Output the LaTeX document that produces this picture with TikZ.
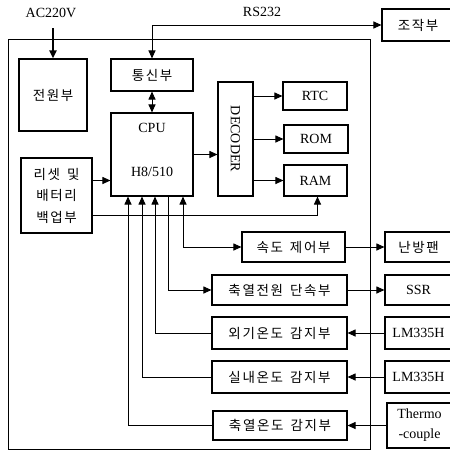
\documentclass[tikz,border=0pt]{standalone}
\usepackage{fontspec}
\setmainfont{Liberation Serif}
\newfontfamily\kr[LetterSpace=12]{Noto Sans CJK KR}
\usetikzlibrary{arrows.meta, calc}
\tikzset{
  blk/.style ={rectangle, draw=black, line width=1.1pt, fill=white, align=center, inner sep=2pt,
               font=\fontsize{14}{20}\selectfont},
  kblk/.style={blk, font=\kr\fontsize{13.5}{21.5}\selectfont},
  arr/.style ={-{Triangle[length=8pt,width=7pt]}, line width=1pt},
  darr/.style={{Triangle[length=8pt,width=7pt]}-{Triangle[length=8pt,width=7pt]}, line width=1pt},
  lbl/.style ={font=\fontsize{14}{15}\selectfont, inner sep=0pt},
}
\newcommand{\ksp}{\hspace{7pt}}

\begin{document}
\begin{tikzpicture}[x=1pt, y=-1pt]
  \useasboundingbox (0,0) rectangle (450,453);
  % outer frame
  \draw[line width=0.7pt] (8,39) rectangle (370,449);
  % left column
  \node[kblk, minimum width=68, minimum height=72] (pwr) at (53,95) {전원부};
  \node[kblk, minimum width=82, minimum height=32] (com) at (152,75) {통신부};
  \node[blk, minimum width=82, minimum height=83] (cpu) at (152,154.5) {};
  \node[lbl] (cpuA) at (152,128) {CPU};
  \node[lbl] (cpuB) at (152,172) {H8/510};
  \node[kblk, minimum width=71, minimum height=75] (rst) at (56.5,195.5) {리셋\ksp 및\\배터리\\백업부};
  % decoder and memories
  \node[blk, minimum width=35, minimum height=114,
        label={[rotate=-90, lbl]center:DECODER}] (dec) at (235.5,139) {};
  \node[blk, minimum width=64, minimum height=28] (rtc) at (315,96) {RTC};
  \node[blk, minimum width=64, minimum height=28] (rom) at (316,139) {ROM};
  \node[blk, minimum width=63, minimum height=31] (ram) at (315.5,180.5) {RAM};
  % interface blocks
  \node[kblk, minimum width=103, minimum height=30] (spd) at (293.5,247) {속도\ksp 제어부};
  \node[kblk, minimum width=135, minimum height=30] (pwc) at (279.5,290) {축열전원\ksp 단속부};
  \node[kblk, minimum width=135, minimum height=32] (ots) at (279.5,333) {외기온도\ksp 감지부};
  \node[kblk, minimum width=135, minimum height=32] (its) at (279.5,377) {실내온도\ksp 감지부};
  \node[kblk, minimum width=134, minimum height=29] (hts) at (280,425.5) {축열온도\ksp 감지부};
  % outside devices
  \node[kblk, minimum width=72, minimum height=32] (ctl) at (418,25) {조작부};
  \node[kblk, minimum width=67, minimum height=30] (fan) at (418.5,247) {난방팬};
  \node[blk, minimum width=67, minimum height=30] (ssr) at (418.5,290) {SSR};
  \node[blk, minimum width=67, minimum height=32] (lm1) at (418.5,333) {LM335H};
  \node[blk, minimum width=67, minimum height=32] (lm2) at (418.5,377) {LM335H};
  \node[blk, minimum width=65, minimum height=45] (tc) at (419.5,425.5) {Thermo\\-couple};
  % labels
  \node[lbl] (ac) at (51,13) {AC220V};
  \node[lbl] (rs) at (262,12) {RS232};
  \coordinate (acIn) at (53,28);
  % connectors
  \draw[arr, line width=2pt] (acIn) -- (acIn |- pwr.north);
  \draw[darr] (ctl.west) -| (com.north);
  \draw[darr] (com) -- (cpu);
  \draw[arr] ([yshift=15pt]rst.east) -- ([yshift=15pt]rst.east -| cpu.west);
  \draw[arr] ([yshift=-20pt]rst.east) -| ([xshift=2pt]ram.south);
  \draw[arr] (cpu.east) -- (cpu.east -| dec.west);
  \draw[arr] (rtc.west -| dec.east) -- (rtc.west);
  \draw[arr] (rom.west -| dec.east) -- (rom.west);
  \draw[arr] (ram.west -| dec.east) -- (ram.west);
  \draw[darr] ([xshift=31pt]cpu.south) |- (spd.west);
  \draw[arr] ([xshift=16pt]cpu.south) |- (pwc.west);
  \draw[arr] (ots.west) -| ([xshift=3pt]cpu.south);
  \draw[arr] (its.west) -| ([xshift=-10pt]cpu.south);
  \draw[arr] (hts.west) -| ([xshift=-24pt]cpu.south);
  \draw[arr] (spd) -- (fan);
  \draw[arr] (pwc) -- (ssr);
  \draw[arr] (lm1) -- (ots);
  \draw[arr] (lm2) -- (its);
  \draw[arr] (tc) -- (hts);
\end{tikzpicture}
\end{document}
